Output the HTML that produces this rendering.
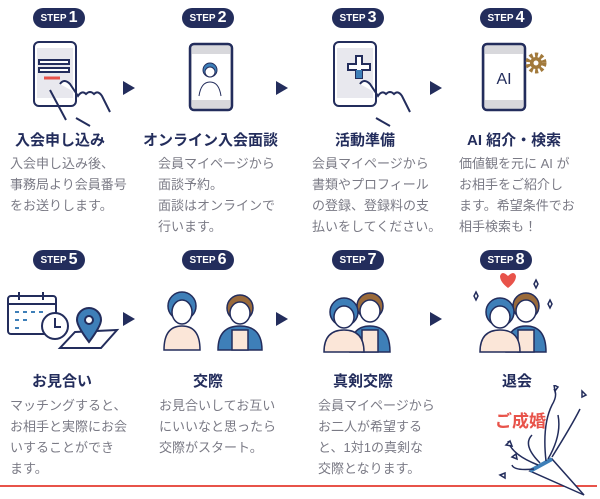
<!DOCTYPE html>
<html><head><meta charset="utf-8"><style>
body{margin:0;width:600px;height:499px;background:#fff;position:relative;overflow:hidden;font-family:"Liberation Sans","Noto Sans CJK JP",sans-serif}
.b{position:absolute;height:20px;background:#232d5c;color:#fff;border-radius:10px;font-weight:bold;font-size:10px;line-height:20px;text-align:center;width:52px}
.b span{font-size:16px;margin-left:2px;vertical-align:-1px}
.t{position:absolute;font-weight:bold;font-size:15px;color:#232d5c;white-space:nowrap;line-height:20px}
.d{position:absolute;font-size:13px;color:#7a7a85;line-height:21px;white-space:nowrap}
.a{position:absolute;width:0;height:0;border-left:12px solid #232d5c;border-top:7px solid transparent;border-bottom:7px solid transparent}
svg{position:absolute}
</style></head><body>
<div class="b" style="left:33px;top:8px">STEP<span>1</span></div>
<div class="b" style="left:182px;top:8px">STEP<span>2</span></div>
<div class="b" style="left:332px;top:8px">STEP<span>3</span></div>
<div class="b" style="left:480px;top:8px">STEP<span>4</span></div>
<div class="b" style="left:33px;top:250px">STEP<span>5</span></div>
<div class="b" style="left:182px;top:250px">STEP<span>6</span></div>
<div class="b" style="left:332px;top:250px">STEP<span>7</span></div>
<div class="b" style="left:480px;top:250px">STEP<span>8</span></div>

<div class="a" style="left:123px;top:81px"></div>
<div class="a" style="left:276px;top:81px"></div>
<div class="a" style="left:430px;top:81px"></div>
<div class="a" style="left:123px;top:312px"></div>
<div class="a" style="left:276px;top:312px"></div>
<div class="a" style="left:430px;top:312px"></div>

<!-- step1 icon -->
<svg style="left:20px;top:38px" width="100" height="90" viewBox="0 0 100 90" fill="none" stroke="#232d5c" stroke-width="2">
<rect x="14" y="4" width="42" height="64" rx="5" fill="#fff"/><rect x="17" y="10" width="36" height="50" fill="#e8e8ee" stroke="none"/>
<rect x="19" y="22" width="30" height="4" fill="#fff"/><rect x="19" y="30" width="30" height="4" fill="#fff"/>
<line x1="24" y1="40" x2="40" y2="40" stroke="#e8534a" stroke-width="3"/>
<path d="M30 52 L46 82 M40 46 Q44 40 50 46 L58 58 Q62 52 66 56 Q70 52 74 56 Q78 52 82 58 L90 74 M56 80 L70 88" fill="#fff"/>
</svg>
<!-- step2 icon -->
<svg style="left:188px;top:42px" width="48" height="72" viewBox="0 0 48 72" stroke="#232d5c" stroke-width="2.5" fill="none">
<rect x="2" y="2" width="42" height="66" rx="4" fill="#d8d8dc"/><rect x="4" y="12" width="38" height="46" fill="#fff" stroke="none"/>
<circle cx="22" cy="28" r="7" fill="#3e7fb8" stroke-width="1"/><circle cx="22" cy="30" r="5" fill="#fff" stroke-width="1"/>
<path d="M11 54 Q13 40 22 40 Q31 40 33 54" stroke-width="1"/>
</svg>
<!-- step3 icon -->
<svg style="left:322px;top:38px" width="100" height="90" viewBox="0 0 100 90" fill="none" stroke="#232d5c" stroke-width="2">
<rect x="12" y="4" width="42" height="64" rx="5" fill="#fff"/><rect x="15" y="10" width="36" height="50" fill="#e8e8ee" stroke="none"/>
<path d="M26 26h8v-8h6v8h8v6h-8v8h-6v-8h-8z" fill="#fff"/><rect x="34" y="32" width="6" height="8" fill="#3e7fb8" stroke="none"/>
<path d="M38 46 Q42 40 48 46 L56 58 Q60 52 64 56 Q68 52 72 56 Q76 52 80 58 L88 74 M54 80 L68 88" fill="#fff"/>
</svg>
<!-- step4 icon -->
<svg style="left:480px;top:42px" width="72" height="72" viewBox="0 0 72 72" stroke="#232d5c" stroke-width="2.5">
<rect x="3" y="2" width="42" height="66" rx="4" fill="#d8d8dc"/><rect x="5" y="12" width="38" height="46" fill="#fff" stroke="none"/>
<text x="24" y="42" font-size="16" fill="#232d5c" stroke="none" text-anchor="middle" font-family="Liberation Sans">AI</text>
<circle cx="56" cy="21" r="8" fill="none" stroke="#a27a3c" stroke-width="5" stroke-dasharray="3 2.2"/><circle cx="56" cy="21" r="6" fill="#a27a3c" stroke="none"/><circle cx="56" cy="21" r="2.5" fill="#fff" stroke="none"/>
</svg>

<div class="t" style="left:15px;top:131px">入会申し込み</div>
<div class="t" style="left:143px;top:131px">オンライン入会面談</div>
<div class="t" style="left:335px;top:131px">活動準備</div>
<div class="t" style="left:467px;top:131px">AI 紹介・検索</div>

<div class="d" style="left:10px;top:153px">入会申し込み後、<br>事務局より会員番号<br>をお送りします。</div>
<div class="d" style="left:158px;top:153px">会員マイページから<br>面談予約。<br>面談はオンラインで<br>行います。</div>
<div class="d" style="left:312px;top:153px">会員マイページから<br>書類やプロフィール<br>の登録、登録料の支<br>払いをしてください。</div>
<div class="d" style="left:459px;top:153px">価値観を元に AI が<br>お相手をご紹介し<br>ます。希望条件でお<br>相手検索も！</div>

<!-- step5 icon -->
<svg style="left:5px;top:292px" width="116" height="60" viewBox="0 0 116 60" stroke="#232d5c" stroke-width="2" fill="none">
<rect x="3" y="4" width="48" height="38" rx="3" fill="#fff"/><path d="M3 12h48" /><path d="M14 0v8M38 0v8"/>
<path d="M10 20h4M18 20h4M26 20h4M34 20h4M10 28h4M18 28h4M10 36h4" stroke="#3e7fb8"/>
<circle cx="50" cy="34" r="13" fill="#fff"/><path d="M50 26v9h6"/>
<path d="M70 40 L112 38 L96 56 L55 56 Z" fill="#fff"/>
<path d="M84 50 Q72 34 72 28 A12 12 0 0 1 96 28 Q96 34 84 50Z" fill="#3e7fb8"/><circle cx="84" cy="28" r="4" fill="#fff"/>
</svg>
<!-- step6 icon -->
<svg style="left:160px;top:290px" width="104" height="62" viewBox="0 0 104 62" stroke="#232d5c" stroke-width="1.5">
<path d="M4 60 Q4 36 22 36 Q40 36 40 60Z" fill="#fbe6d8"/>
<circle cx="22" cy="16" r="14" fill="#3e7fb8"/><ellipse cx="22" cy="22" rx="10" ry="12" fill="#fff"/>
<path d="M58 60 Q58 36 80 36 Q102 36 102 60Z" fill="#3e7fb8"/><path d="M72 40 L72 60 L88 60 L88 40Z" fill="#fbe6d8"/>
<circle cx="80" cy="18" r="13" fill="#9a6a3a"/><ellipse cx="80" cy="23" rx="10" ry="11" fill="#fff"/>
</svg>
<!-- step7 -->
<svg style="left:322px;top:286px" width="72" height="68" viewBox="0 0 72 68" stroke="#232d5c" stroke-width="1.5">
<path d="M28 66 Q28 40 48 40 Q68 40 68 66Z" fill="#3e7fb8"/><path d="M40 44 V66 H56 V44Z" fill="#fbe6d8"/>
<circle cx="48" cy="20" r="13" fill="#9a6a3a"/><ellipse cx="48" cy="25" rx="10" ry="11" fill="#fff"/>
<path d="M2 66 Q2 44 22 44 Q42 44 42 66Z" fill="#fbe6d8"/>
<circle cx="22" cy="26" r="14" fill="#3e7fb8"/><ellipse cx="22" cy="31" rx="10" ry="11" fill="#fff"/>
</svg>
<!-- step8 -->
<svg style="left:470px;top:270px" width="90" height="84" viewBox="0 0 90 84" stroke="#232d5c" stroke-width="1.5">
<path d="M38 6 Q32 0 30 6 Q30 12 38 18 Q46 12 46 6 Q44 0 38 6Z" fill="#e8534a" stroke="none"/>
<path d="M6 22l2 4 -2 4 -2-4z M66 10l2 4-2 4-2-4z M80 30l2 4-2 4-2-4z" fill="#fff"/>
<path d="M36 82 Q36 56 56 56 Q76 56 76 82Z" fill="#3e7fb8"/><path d="M48 60 V82 H64 V60Z" fill="#fbe6d8"/>
<circle cx="56" cy="36" r="13" fill="#9a6a3a"/><ellipse cx="56" cy="41" rx="10" ry="11" fill="#fff"/>
<path d="M10 82 Q10 60 30 60 Q50 60 50 82Z" fill="#fbe6d8"/>
<circle cx="30" cy="42" r="14" fill="#3e7fb8"/><ellipse cx="30" cy="47" rx="10" ry="11" fill="#fff"/>
</svg>

<div class="t" style="left:32px;top:372px">お見合い</div>
<div class="t" style="left:193px;top:372px">交際</div>
<div class="t" style="left:333px;top:372px">真剣交際</div>
<div class="t" style="left:502px;top:372px">退会</div>

<div class="d" style="left:10px;top:395px">マッチングすると、<br>お相手と実際にお会<br>いすることができ<br>ます。</div>
<div class="d" style="left:159px;top:395px">お見合いしてお互い<br>にいいなと思ったら<br>交際がスタート。</div>
<div class="d" style="left:318px;top:395px">会員マイページから<br>お二人が希望する<br>と、1対1の真剣な<br>交際となります。</div>
<div class="t" style="left:495px;top:412px;color:#e8534a;font-size:17px">ご成婚</div>

<div style="position:absolute;left:0;top:485px;width:597px;height:2px;background:#e8534a"></div>
<!-- popper -->
<svg style="left:462px;top:385px" width="138" height="114" viewBox="0 0 138 114" stroke="#232d5c" stroke-width="1.5" fill="none">
<path d="M68 86 L90 74 L122 110 Z" fill="#fff"/><path d="M68 86 L90 74" stroke="#3e7fb8" stroke-width="4"/>
<path d="M84 76 Q80 40 90 20 Q96 10 92 4 M78 78 Q60 60 70 50 M76 80 Q50 70 46 56 M86 74 Q100 50 96 30 M72 84 Q52 86 50 80 M90 72 Q110 40 118 24"/>
<path d="M44 60l4-4 2 5z M38 90l5-2 0 5z M92 -0l4 2-3 4z M120 6l4 4-4 2z M50 72l4-3 1 5z" fill="#fff"/>
</svg>
</body></html>
